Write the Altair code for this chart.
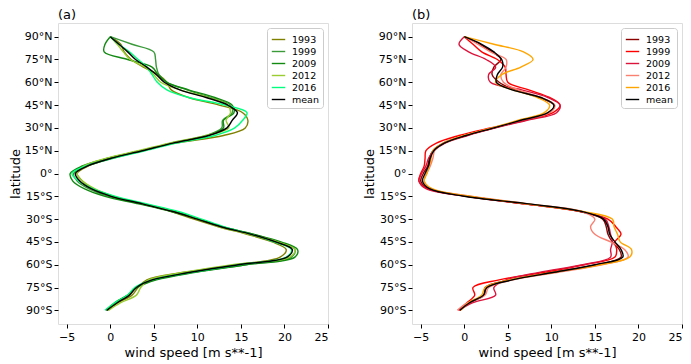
import altair as alt
import pandas as pd

lat = [90, 85, 80, 75, 70, 65, 60, 55, 50, 45, 40, 35, 30, 25, 20, 15, 10, 5, 0,
       -5, -10, -15, -20, -25, -30, -35, -40, -45, -50, -55, -60, -65, -70, -75, -80, -85, -90]

series_names = ["1993", "1999", "2009", "2012", "2016", "mean"]

# panel (a)
a_1993 = [0, 1.2, 1.6, 2.4, 3.8, 5.5, 6.5, 7.0, 9.0, 12.5, 15.2, 15.8, 15.5, 13.0, 7.5, 3.5, 0.0, -2.5, -3.8,
          -3.2, -2.0, 0.3, 3.9, 7.0, 9.6, 12.4, 15.7, 18.6, 20.2, 19.5, 14.5, 8.5, 4.2, 3.2, 2.5, 0.9, -0.3]
a_1999 = [0, 2.5, 5.0, 5.2, 5.3, 5.6, 6.5, 8.8, 11.5, 13.8, 14.0, 12.9, 12.8, 11.0, 7.0, 3.8, 0.3, -2.6, -4.2,
          -3.8, -2.5, -0.2, 3.5, 7.3, 10.2, 12.9, 16.5, 19.3, 21.2, 20.8, 15.5, 9.5, 5.0, 3.0, 2.0, 0.6, -0.5]
a_2009 = [0, -0.6, -0.7, 2.0, 4.8, 5.5, 6.5, 9.0, 12.0, 14.0, 14.2, 13.0, 13.0, 11.2, 7.0, 3.5, -0.3, -3.2, -4.6,
          -4.3, -3.0, -0.6, 3.3, 7.0, 10.0, 12.8, 16.5, 19.6, 21.5, 21.2, 15.6, 9.8, 5.3, 3.1, 2.0, 0.5, -0.5]
a_2012 = [0, 0.8, 1.5, 2.3, 4.0, 5.0, 5.8, 8.0, 11.2, 13.5, 13.8, 13.3, 13.6, 11.0, 6.8, 3.2, -0.5, -3.0, -3.8,
          -3.2, -1.8, 0.4, 3.8, 7.2, 10.0, 12.5, 16.0, 19.2, 21.2, 20.6, 14.0, 8.5, 4.4, 3.5, 3.0, 1.2, -0.2]
a_2016 = [0, 1.0, 2.2, 3.2, 4.2, 4.8, 5.4, 6.5, 9.0, 13.2, 15.7, 15.2, 14.3, 12.0, 7.6, 4.0, 0.3, -2.8, -4.4,
          -3.6, -2.0, 0.6, 4.2, 7.8, 10.5, 13.0, 16.2, 18.8, 20.8, 20.2, 14.8, 9.4, 4.8, 2.8, 2.0, 0.5, -0.6]
a_mean = [0, 1.0, 2.0, 2.9, 4.2, 5.3, 6.2, 8.0, 11.0, 13.5, 14.6, 14.0, 13.4, 11.3, 7.2, 3.7, 0.1, -2.6, -4.0,
          -3.5, -2.2, 0.1, 3.7, 7.2, 10.0, 12.7, 16.2, 19.0, 20.9, 20.3, 14.7, 9.2, 4.8, 3.0, 2.2, 0.8, -0.4]

# panel (b)
b_1993 = [0, 1.8, 3.2, 4.2, 3.4, 3.2, 4.0, 5.8, 8.6, 10.3, 9.8, 6.7, 3.5, 0.2, -2.4, -3.6, -4.0, -4.2, -4.7,
          -5.0, -4.1, 0.4, 7.0, 13.3, 15.9, 16.3, 16.5, 17.0, 17.8, 18.0, 15.2, 10.2, 5.3, 2.4, 2.3, 0.6, -0.5]
b_1999 = [0, 1.0, 2.0, 3.8, 4.7, 4.8, 5.0, 7.4, 9.8, 11.0, 10.2, 7.0, 3.0, -0.6, -3.2, -4.4, -4.5, -4.6, -5.0,
          -5.2, -4.2, 0.3, 7.0, 13.3, 16.5, 17.4, 18.0, 17.3, 17.5, 17.3, 13.8, 9.2, 4.0, 1.0, 1.2, 0.3, -0.7]
b_2009 = [0, -0.6, 0.5, 2.5, 3.6, 2.8, 3.0, 6.6, 9.6, 11.0, 10.6, 7.2, 3.6, 0.4, -2.2, -3.5, -4.1, -4.4, -4.9,
          -5.2, -4.4, 0.2, 6.9, 13.4, 16.2, 16.6, 16.8, 17.0, 16.8, 16.8, 13.6, 8.6, 4.8, 3.4, 3.6, 1.0, -0.6]
b_2012 = [0, 1.6, 3.0, 4.8, 4.8, 4.2, 4.5, 6.2, 8.8, 10.4, 9.8, 6.5, 3.2, 0.0, -2.4, -3.4, -3.6, -3.9, -4.3,
          -4.6, -3.8, 0.8, 7.4, 13.5, 15.0, 14.5, 15.0, 16.8, 18.4, 18.8, 15.8, 10.8, 5.6, 2.8, 2.4, 0.4, -0.8]
b_2016 = [0, 3.4, 6.8, 7.9, 6.5, 4.3, 3.6, 5.6, 8.4, 9.8, 9.2, 6.2, 3.2, 0.0, -2.4, -3.6, -3.8, -4.0, -4.3,
          -4.6, -3.7, 0.6, 7.2, 13.6, 17.0, 17.2, 17.6, 17.9, 19.2, 19.0, 15.6, 10.3, 5.2, 2.4, 2.0, 0.5, -0.4]
b_mean = [0, 2.0, 3.4, 4.3, 4.4, 3.8, 3.7, 5.5, 8.8, 10.3, 9.6, 6.5, 3.4, 0.2, -2.3, -3.5, -3.9, -4.1, -4.5,
          -4.8, -4.0, 0.0, 7.4, 13.5, 16.0, 16.5, 16.7, 17.3, 18.0, 18.2, 15.0, 10.3, 5.5, 2.6, 2.2, 0.6, -0.5]

colors_a = ["#808000", "#3a9a3a", "#128a12", "#9acd32", "#00ff7f", "#000000"]
colors_b = ["#8b0000", "#ff0000", "#dc143c", "#fa8072", "#ffa500", "#000000"]

x_ticks = [-5, 0, 5, 10, 15, 20, 25]
y_ticks = [-90, -75, -60, -45, -30, -15, 0, 15, 30, 45, 60, 75, 90]

FONT = "DejaVu Sans"


def make_df(cols):
    rows = []
    for name, vals in zip(series_names, cols):
        for i, (la, v) in enumerate(zip(lat, vals)):
            rows.append({"series": name, "lat": la, "wind": v, "idx": i})
    return pd.DataFrame(rows)


def panel(df, colors, title):
    legend = alt.Legend(
        title=None, orient="top-right", offset=5, fillColor="white",
        strokeColor="#cccccc", padding=4, cornerRadius=3,
        symbolType="stroke", symbolSize=180, labelFontSize=9.5,
        labelFont=FONT, rowPadding=0, labelOffset=6, labelColor="black",
    )
    color = alt.Color("series:N", scale=alt.Scale(domain=series_names, range=colors), legend=legend)
    sw = alt.StrokeWidth("series:N",
                         scale=alt.Scale(domain=series_names, range=[1.4] * 5 + [2.8]),
                         legend=legend)
    x = alt.X("wind:Q", scale=alt.Scale(domain=[-6, 25], nice=False, zero=False),
              axis=alt.Axis(values=x_ticks, title="wind speed [m s**-1]", grid=False,
                            domain=False, tickSize=4, labelFontSize=11, titleFontSize=13,
                            labelFont=FONT, titleFont=FONT, titleFontWeight="normal",
                            labelPadding=3, titlePadding=4, tickColor="black",
                            labelColor="black", titleColor="black"))
    y = alt.Y("lat:Q", scale=alt.Scale(domain=[-99, 99], nice=False, zero=False),
              axis=alt.Axis(values=y_ticks, title="latitude", grid=False, domain=False,
                            tickSize=4, labelFontSize=11, titleFontSize=13,
                            labelFont=FONT, titleFont=FONT, titleFontWeight="normal",
                            labelPadding=2, titlePadding=2, tickColor="black",
                            labelColor="black", titleColor="black",
                            labelExpr="datum.value > 0 ? datum.value + '°N' : (datum.value < 0 ? (-datum.value) + '°S' : '0°')"))
    base = alt.Chart(df)
    years = base.transform_filter(alt.datum.series != "mean").mark_line(
        interpolate="catmull-rom").encode(x=x, y=y, color=color, strokeWidth=sw,
                                          order=alt.Order("idx:Q"))
    mean = base.transform_filter(alt.datum.series == "mean").mark_line(
        interpolate="catmull-rom").encode(x=x, y=y, color=color, strokeWidth=sw,
                                          order=alt.Order("idx:Q"))
    return alt.layer(years, mean).properties(
        width=270, height=301,
        title=alt.TitleParams(title, anchor="start", frame="group", fontSize=13,
                              fontWeight="normal", font=FONT, offset=1, color="black"),
    )


left = panel(make_df([a_1993, a_1999, a_2009, a_2012, a_2016, a_mean]), colors_a, "(a)")
right = panel(make_df([b_1993, b_1999, b_2009, b_2012, b_2016, b_mean]), colors_b, "(b)")

chart = alt.hconcat(left, right, spacing=33, padding=0).resolve_scale(
    color="independent", strokeWidth="independent"
).configure_view(stroke="black", strokeWidth=1).configure(background="white")

chart.save("out.html", embed_options={"renderer": "svg", "actions": False})
